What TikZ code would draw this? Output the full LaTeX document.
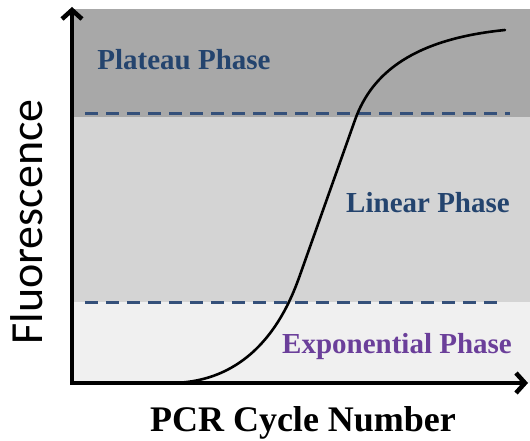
\documentclass[tikz,border=0pt]{standalone}
\usepackage{fontspec}
\setmainfont{Liberation Serif}
\newfontfamily\calibri{Carlito}
\usetikzlibrary{arrows.meta}
\definecolor{PlateauGray}{HTML}{A8A8A8}
\definecolor{LinearGray}{HTML}{D4D4D4}
\definecolor{ExpoGray}{HTML}{F0F0F0}
\definecolor{PhaseBlue}{HTML}{24446E}
\definecolor{PhasePurple}{HTML}{6B3F9A}
\definecolor{DashBlue}{HTML}{34507A}

\begin{document}
\begin{tikzpicture}[x=1pt,y=-1pt,
    phase/.style={font=\bfseries\fontsize{29}{29}\selectfont,anchor=base},
    threshold/.style={DashBlue,line width=3pt,dash pattern=on 13pt off 8pt}]
  \useasboundingbox (0,0) rectangle (530,441);
  % phase bands
  \fill[ExpoGray] (74,302) rectangle (530,383);
  \fill[LinearGray] (74,117) rectangle (530,302);
  \fill[PlateauGray] (74,9.5) rectangle (530,117);
  % thresholds
  \draw[threshold] (85,114) -- (510,114);
  \draw[threshold] (85,302) -- (497,302);
  % amplification curve
  \draw[line width=2.6pt,line cap=round]
    (72,383) -- (170,383) .. controls (260,383) and (290,303) .. (300,275)
    -- (355,120) .. controls (372,72) and (415,39) .. (505,30);
  % axes
  \coordinate (origin) at (72,383);
  \coordinate (ytip) at (72,7);
  \coordinate (xtip) at (528,383);
  \draw[line width=4.5pt,line join=miter,
        {Straight Barb[length=9pt,width=20pt]}-{Straight Barb[length=9pt,width=20pt]}]
    (ytip) -- (origin) -- (xtip);
  % labels
  \node[phase,text=PhaseBlue] (plateau) at (184,70) {Plateau Phase};
  \node[phase,text=PhaseBlue] (linear) at (428,212) {Linear Phase};
  \node[phase,text=PhasePurple] (expo) at (397,353) {Exponential Phase};
  \node[font=\calibri\fontsize{46}{46}\selectfont,rotate=90,anchor=base] (ylabel) at (42,222) {Fluorescence};
  \node[font=\bfseries\fontsize{36}{36}\selectfont,anchor=base] (xlabel) at (303,431) {PCR Cycle Number};
\end{tikzpicture}
\end{document}
